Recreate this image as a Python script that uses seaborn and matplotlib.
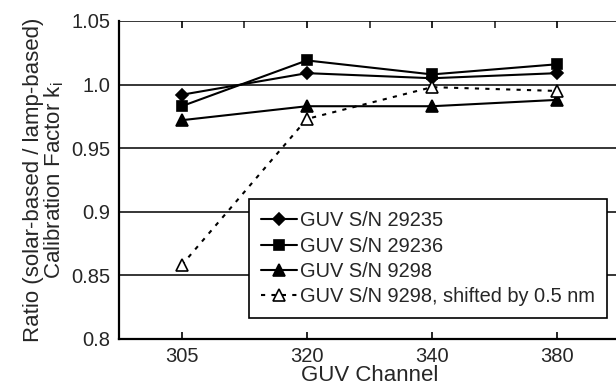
import matplotlib
matplotlib.use("Agg")
import matplotlib.pyplot as plt
import seaborn as sns
import pandas as pd
from matplotlib.ticker import FixedLocator

channels = ["305", "320", "340", "380"]
s29235 = [0.992, 1.009, 1.005, 1.009]
s29236 = [0.983, 1.019, 1.008, 1.016]
s9298 = [0.972, 0.983, 0.983, 0.988]
s9298_shift = [0.858, 0.973, 0.998, 0.995]
series_names = ["GUV S/N 29235", "GUV S/N 29236", "GUV S/N 9298",
                "GUV S/N 9298, shifted by 0.5 nm"]
ytick_vals = [0.8, 0.85, 0.9, 0.95, 1.0, 1.05]
ytick_labels = ["0.8", "0.85", "0.9", "0.95", "1.0", "1.05"]

sns.set_style("white")
plt.rcParams["font.family"] = ["Liberation Sans", "DejaVu Sans"]
plt.rcParams["mathtext.fontset"] = "custom"
plt.rcParams["mathtext.rm"] = "Liberation Sans"

fig = plt.figure(figsize=(6.16, 3.89), dpi=100)
ax = fig.add_axes([119/616, 50/389, 501/616, 318/389])

pos = list(range(len(channels)))
styles = [
    dict(marker="D", markersize=6.5, mfc="black", linestyle="-"),
    dict(marker="s", markersize=7, mfc="black", linestyle="-"),
    dict(marker="^", markersize=8.5, mfc="black", linestyle="-"),
    dict(marker="^", markersize=8.5, mfc="white", linestyle=(0, (2, 3))),
]
for name, vals, st in zip(series_names, [s29235, s29236, s9298, s9298_shift], styles):
    df = pd.DataFrame({"x": pos, "y": vals})
    sns.lineplot(data=df, x="x", y="y", ax=ax, color="black", lw=1.5,
                 marker=st["marker"], markersize=st["markersize"],
                 markerfacecolor=st["mfc"], markeredgecolor="black",
                 markeredgewidth=1.2, linestyle=st["linestyle"],
                 label=name, zorder=3)

ax.set_xlim(-0.5, len(channels) - 0.5)
ax.set_ylim(0.8, 1.05)
ax.set_yticks(ytick_vals)
ax.set_yticklabels(ytick_labels, fontsize=14.5)
ax.set_xticks(pos)
ax.set_xticklabels(channels, fontsize=14.5)
ax.tick_params(axis="y", length=0, pad=6)
ax.tick_params(axis="x", direction="in", length=5, width=1.2, color="black",
               top=True, bottom=True, pad=6)
ax.xaxis.set_minor_locator(FixedLocator([0.5, 1.5, 2.5]))
ax.tick_params(axis="x", which="minor", direction="in", length=5, width=1.2,
               top=True, bottom=False)

for v in ytick_vals:
    ax.axhline(v, color="black", lw=1.1, zorder=1)

for side in ["top", "right"]:
    ax.spines[side].set_visible(False)
for side in ["left", "bottom"]:
    ax.spines[side].set_color("black")
    ax.spines[side].set_linewidth(1.6)

ax.set_xlabel("GUV Channel", fontsize=16, labelpad=-1)
ax.set_ylabel("Ratio (solar-based / lamp-based)\nCalibration Factor k$_\\mathrm{i}$",
              fontsize=16, linespacing=0.9, labelpad=4)

leg = ax.legend(loc="upper left", bbox_to_anchor=(0.2585, 0.4387), borderaxespad=0,
                frameon=True, fancybox=False, shadow=False, framealpha=1,
                edgecolor="black", fontsize=14.4, handlelength=1.8,
                handletextpad=0.15, labelspacing=0.31, borderpad=0.6)
leg.get_frame().set_linewidth(1.2)
leg.set_zorder(5)

fig.savefig("out.png", dpi=100)
